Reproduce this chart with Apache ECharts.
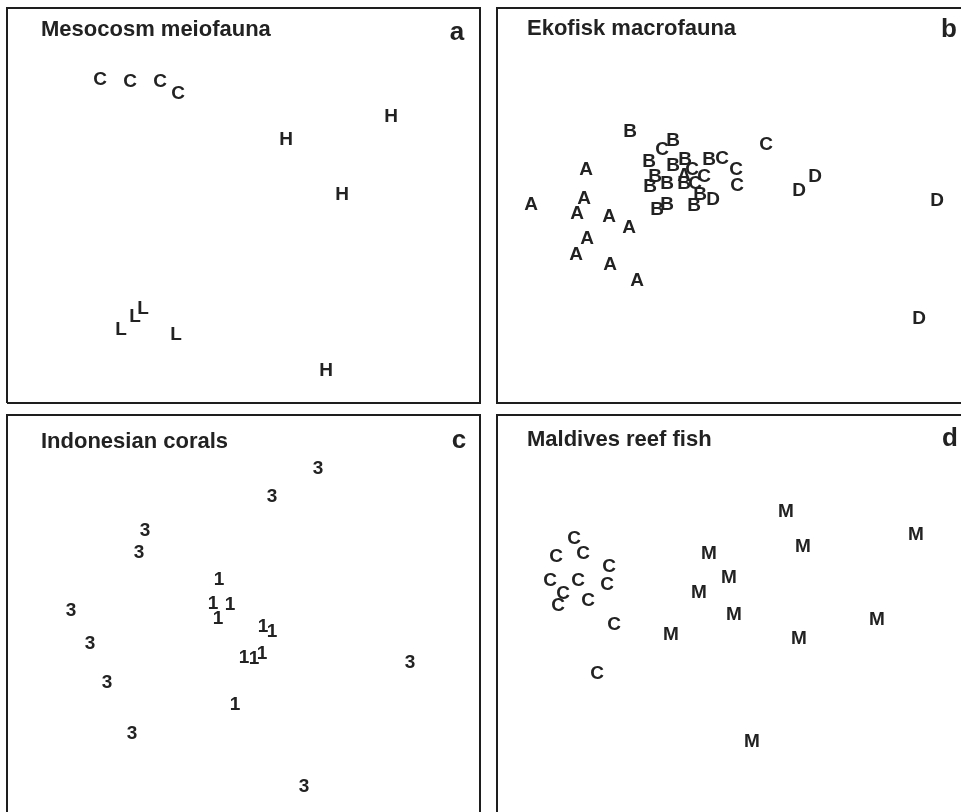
<!DOCTYPE html>
<html>
<head>
<meta charset="utf-8">
<script src="https://cdn.jsdelivr.net/npm/echarts@6/dist/echarts.min.js"></script>
<style>
html,body{margin:0;padding:0;background:#fff;}
#chart{width:961px;height:812px;}
</style>
</head>
<body>
<div id="chart"></div>
<script>
// Panel titles and letters
const panelTitles = ['Mesocosm meiofauna', 'Ekofisk macrofauna', 'Indonesian corals', 'Maldives reef fish'];
const panelLetters = ['a', 'b', 'c', 'd'];

// Panel a: Mesocosm meiofauna (ordination positions, y measured downward)
const aLab = ['C','C','C','C','H','H','H','H','L','L','L','L'];
const aX = [93,123,153,171,384,279,335,319,114,128,136,169];
const aY = [70,72,72,84,107,130,185,361,320,307,299,325];

// Panel b: Ekofisk macrofauna
const bLab = ['A','A','A','A','A','A','A','A','A','A','A',
              'B','B','B','B','B','B','B','B','B','B','B','B','B','B',
              'C','C','C','C','C','C','C','C',
              'D','D','D','D','D'];
const bX = [34,89,87,80,112,132,90,79,113,140,187,
            133,176,152,176,188,212,158,153,170,187,203,197,170,160,
            165,195,225,239,240,198,207,269,
            216,302,318,440,422];
const bY = [195,160,189,204,207,218,229,245,255,271,166,
            122,131,152,156,150,150,167,177,174,174,185,196,195,200,
            140,160,149,160,176,174,167,135,
            190,181,167,191,309];

// Panel c: Indonesian corals
const cLab = ['3','3','3','3','3','3','3','3','3','3',
              '1','1','1','1','1','1','1','1','1','1'];
const cX = [311,265,138,132,64,83,100,125,403,297,
            212,206,223,211,256,265,237,247,255,228];
const cY = [52,80,114,136,194,227,266,317,246,370,
            163,187,188,202,210,215,241,242,237,288];

// Panel d: Maldives reef fish
const dLab = ['M','M','M','M','M','M','M','M','M','M','M',
              'C','C','C','C','C','C','C','C','C','C','C','C'];
const dX = [289,419,212,306,232,202,237,174,302,380,255,
            77,86,59,112,53,81,110,66,91,61,117,100];
const dY = [95,118,137,130,161,176,198,218,222,203,325,
            122,137,140,150,164,164,168,177,184,189,208,257];

const panels = [
  {lab: aLab, x: aX, y: aY},
  {lab: bLab, x: bX, y: bY},
  {lab: cLab, x: cX, y: cY},
  {lab: dLab, x: dX, y: dY}
];

// Layout (pixels) - plotting areas kept inside the canvas
const boxes = [
  {left: 7,   top: 8,   width: 473, height: 395},
  {left: 497, top: 8,   width: 463, height: 395},
  {left: 7,   top: 415, width: 473, height: 396},
  {left: 497, top: 415, width: 463, height: 396}
];
// Frame outlines (the right/bottom parts of some frames fall outside the picture)
const frames = [
  [[7,403],[7,8],[480,8],[480,403],[7,403]],
  [[965,8],[497,8],[497,403],[965,403]],
  [[7,816],[7,415],[480,415],[480,816]],
  [[965,415],[497,415],[497,816]]
];
const titlePos = [[41,30],[527,29],[41,442],[527,440]];
const letterPos = [[457,33],[949,30],[459,441],[950,439]];

const FONT = '"Liberation Sans", Arial, Helvetica, sans-serif';
const INK = '#222222';
const POINT_FONT = 'bold 19px ' + FONT;
const GLYPH_SHIFT = 2; // vertical centering correction for capital glyphs

const grids = [], xAxes = [], yAxes = [], series = [], graphics = [];
boxes.forEach((b, i) => {
  grids.push({left: b.left, top: b.top, width: b.width, height: b.height, show: false, containLabel: false});
  xAxes.push({gridIndex: i, type: 'value', min: 0, max: b.width, show: false});
  yAxes.push({gridIndex: i, type: 'value', min: 0, max: b.height, inverse: true, show: false});
  const p = panels[i];
  series.push({
    type: 'custom', xAxisIndex: i, yAxisIndex: i,
    clip: false, silent: true,
    data: p.x.map((x, k) => [x, p.y[k]]),
    encode: {x: 0, y: 1},
    renderItem: (params, api) => {
      const pt = api.coord([api.value(0), api.value(1)]);
      return {
        type: 'text', x: pt[0], y: pt[1] + GLYPH_SHIFT,
        style: {text: p.lab[params.dataIndex], font: POINT_FONT, fill: INK,
          align: 'center', verticalAlign: 'middle'}
      };
    }
  });
  graphics.push({type: 'polyline', shape: {points: frames[i]},
    style: {stroke: '#1e1e1e', lineWidth: 2, fill: null}, silent: true});
  graphics.push({type: 'text', x: titlePos[i][0], y: titlePos[i][1],
    style: {text: panelTitles[i], font: 'bold 22px ' + FONT, fill: INK, align: 'left', verticalAlign: 'middle'}});
  graphics.push({type: 'text', x: letterPos[i][0], y: letterPos[i][1],
    style: {text: panelLetters[i], font: 'bold 26px ' + FONT, fill: INK, align: 'center', verticalAlign: 'middle'}});
});

const chart = echarts.init(document.getElementById('chart'), null, {renderer: 'canvas'});
chart.setOption({
  animation: false,
  backgroundColor: '#ffffff',
  grid: grids, xAxis: xAxes, yAxis: yAxes, series: series, graphic: graphics
});
</script>
</body>
</html>
